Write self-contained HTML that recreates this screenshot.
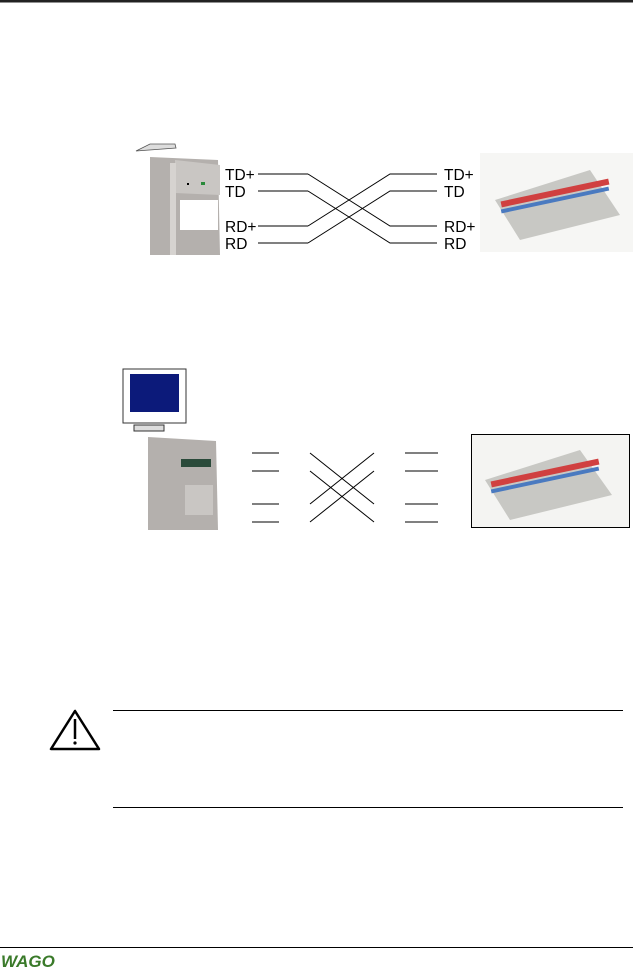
<!DOCTYPE html>
<html><head><style>body{margin:0;background:#fff}svg{display:block}</style></head>
<body>
<svg width="633" height="971" viewBox="0 0 633 971" xmlns="http://www.w3.org/2000/svg" font-family="Liberation Sans, sans-serif">
<rect x="0" y="0" width="633" height="2.5" fill="#222"/>
<!-- Diagram 1 -->
<path d="M136 151 L150 144 L175 144 L176 148 Z" fill="#ddd" stroke="#555" stroke-width="0.8"/>
<polygon points="150,157 218,160 220,255 150,255" fill="#b4b0ad"/>
<polygon points="175,160 220,165 220,195 175,193" fill="#c9c6c3"/>
<rect x="170" y="163" width="6" height="92" fill="#d6d3d0"/>
<rect x="180" y="200" width="38" height="30" fill="#fff"/>
<rect x="201" y="182" width="4" height="3" fill="#2a8a3a"/>
<rect x="187" y="183" width="2" height="2" fill="#000"/>
<line x1="258" y1="174" x2="308" y2="174" stroke="#000"/><line x1="258" y1="191" x2="308" y2="191" stroke="#000"/>
<line x1="258" y1="226" x2="308" y2="226" stroke="#000"/><line x1="258" y1="243" x2="308" y2="243" stroke="#000"/>
<polyline points="308,174 390,226 437,226" fill="none" stroke="#000"/>
<polyline points="308,191 390,243 437,243" fill="none" stroke="#000"/>
<polyline points="308,226 390,174 437,174" fill="none" stroke="#000"/>
<polyline points="308,243 390,191 437,191" fill="none" stroke="#000"/>
<g font-size="15.5" fill="#000">
<text x="225" y="180">TD+</text><text x="225" y="197">TD</text><text x="225" y="232">RD+</text><text x="225" y="249">RD</text>
<text x="444" y="180">TD+</text><text x="444" y="197">TD</text><text x="444" y="232">RD+</text><text x="444" y="249">RD</text>
</g>
<rect x="480" y="153" width="153" height="99" fill="#f6f6f4"/>
<polygon points="495,200 590,170 620,215 520,240" fill="#c8c8c4"/>
<rect x="500" y="190" width="110" height="6" fill="#d04040" transform="rotate(-12 555 193)"/>
<rect x="500" y="198" width="110" height="4" fill="#4a7ac0" transform="rotate(-12 555 200)"/>
<!-- Diagram 2 -->
<rect x="123" y="369" width="63" height="54" fill="#fff" stroke="#333"/>
<rect x="130" y="374" width="49" height="38" fill="#0c1a7a"/>
<rect x="134" y="425" width="30" height="6" fill="#ddd" stroke="#333"/>
<polygon points="148,437 216,441 218,530 148,530" fill="#b4b0ad"/>
<rect x="181" y="459" width="30" height="8" fill="#2a4a3a"/>
<rect x="185" y="485" width="28" height="30" fill="#c9c6c3"/>
<g stroke="#000">
<line x1="252" y1="453" x2="279" y2="453"/><line x1="252" y1="471" x2="279" y2="471"/><line x1="252" y1="504" x2="279" y2="504"/><line x1="252" y1="522" x2="279" y2="522"/>
<line x1="405" y1="453" x2="438" y2="453"/><line x1="405" y1="471" x2="438" y2="471"/><line x1="405" y1="504" x2="438" y2="504"/><line x1="405" y1="522" x2="438" y2="522"/>
<line x1="310" y1="453" x2="374" y2="504"/><line x1="310" y1="471" x2="374" y2="522"/>
<line x1="310" y1="504" x2="374" y2="453"/><line x1="310" y1="522" x2="374" y2="471"/>
</g>
<rect x="471.5" y="434.5" width="158" height="93" fill="#f4f4f2" stroke="#000"/>
<polygon points="485,480 580,450 612,495 510,520" fill="#c8c8c4"/>
<rect x="490" y="470" width="110" height="6" fill="#d04040" transform="rotate(-12 545 473)"/>
<rect x="490" y="478" width="110" height="4" fill="#4a7ac0" transform="rotate(-12 545 480)"/>
<!-- Warning -->
<polygon points="75,711 51,749 99,749" fill="none" stroke="#000" stroke-width="2.5" stroke-linejoin="round"/>
<line x1="75" y1="719" x2="75" y2="739" stroke="#000" stroke-width="2.5"/>
<circle cx="75" cy="743" r="1.6" fill="#000"/>
<line x1="113" y1="710.5" x2="623" y2="710.5" stroke="#000"/>
<line x1="113" y1="807.5" x2="623" y2="807.5" stroke="#000"/>
<line x1="0" y1="947.5" x2="633" y2="947.5" stroke="#000"/>
<text x="1" y="967" font-size="17" font-weight="bold" font-style="italic" fill="#3a7a2a">WAGO</text>
</svg>
</body></html>
